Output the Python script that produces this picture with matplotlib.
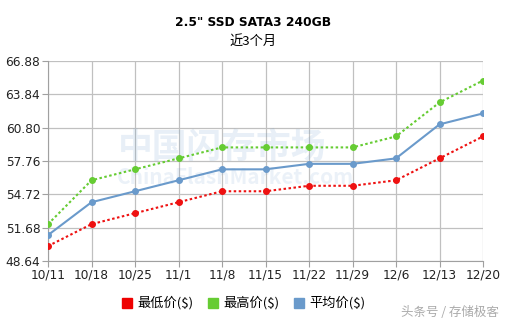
import matplotlib
matplotlib.use("Agg")
import matplotlib.pyplot as plt
from matplotlib.patches import Rectangle

plt.rcParams['font.family'] = ['Noto Sans CJK SC', 'DejaVu Sans']

dates = ["10/11", "10/18", "10/25", "11/1", "11/8", "11/15", "11/22", "11/29", "12/6", "12/13", "12/20"]
low = [50.0, 52.0, 53.0, 54.0, 55.0, 55.0, 55.5, 55.5, 56.0, 58.0, 60.0]
high = [52.0, 56.0, 57.0, 58.0, 59.0, 59.0, 59.0, 59.0, 60.0, 63.1, 65.1]
avg = [51.0, 54.0, 55.0, 56.0, 57.0, 57.0, 57.5, 57.5, 58.0, 61.1, 62.1]
yticks = [48.64, 51.68, 54.72, 57.76, 60.80, 63.84, 66.88]
series_names = ["最低价($)", "最高价($)", "平均价($)"]
colors = ["#ee1111", "#66cc33", "#6a9acb"]

fig = plt.figure(figsize=(5.07, 3.22), dpi=100)
ax = fig.add_axes([48/507, 61/322, 435/507, 200/322])
x = list(range(len(dates)))

ax.plot(x, low, color=colors[0], linestyle=(0, (1.2, 1.2)), linewidth=1.5, marker='o', markersize=4, zorder=3)
ax.plot(x, high, color=colors[1], linestyle=(0, (1.2, 1.2)), linewidth=1.5, marker='o', markersize=4, zorder=3)
ax.plot(x, avg, color=colors[2], linestyle='-', linewidth=1.5, marker='o', markersize=4, zorder=3)

ax.set_xlim(0, len(dates) - 1)
ax.set_ylim(yticks[0], yticks[-1])
ax.set_xticks(x)
ax.set_xticklabels(dates, fontsize=8.7, family='DejaVu Sans', color='#222222')
ax.set_yticks(yticks)
ax.set_yticklabels([f"{v:.2f}" for v in yticks], fontsize=8.7, family='DejaVu Sans', color='#222222')
ax.grid(True, color='#c0c0c0', linewidth=0.9)
ax.set_axisbelow(True)
for s in ['top', 'right']:
    ax.spines[s].set_visible(False)
for s in ['left', 'bottom']:
    ax.spines[s].set_color('#a0a0a0')
ax.tick_params(axis='both', length=4, color='#a0a0a0', pad=1.5)

# watermark
ax.text(0.4, 0.57, "中国闪存市场", transform=ax.transAxes, fontsize=25, color='#6699cc',
        alpha=0.15, ha='center', va='center', fontweight='bold', zorder=1)
ax.text(0.43, 0.42, "ChinaFlashMarket.com", transform=ax.transAxes, fontsize=15, color='#6699cc',
        alpha=0.13, ha='center', va='center', fontweight='bold', zorder=1)

fig.text(0.5, 1 - 22/322, '2.5" SSD SATA3 240GB', ha='center', va='center', fontsize=8.8, fontweight='bold', family='DejaVu Sans')
fig.text(0.5, 1 - 41/322, "近3个月", ha='center', va='center', fontsize=9.5)

# legend
lx = [122, 208, 294]
for i, name in enumerate(series_names):
    fig.patches.append(Rectangle((lx[i]/507, 1 - 308/322), 10/507, 10/322, transform=fig.transFigure,
                                 color=colors[i] if i != 0 else '#ee0000'))
    fig.text((lx[i] + 15)/507, 1 - 303/322, name, ha='left', va='center', fontsize=9.5)

fig.text(1 - 8/507, 1 - 312/322, "头条号 / 存储极客", ha='right', va='center', fontsize=9, color='#aaaaaa')

fig.savefig("out.png", dpi=100)
